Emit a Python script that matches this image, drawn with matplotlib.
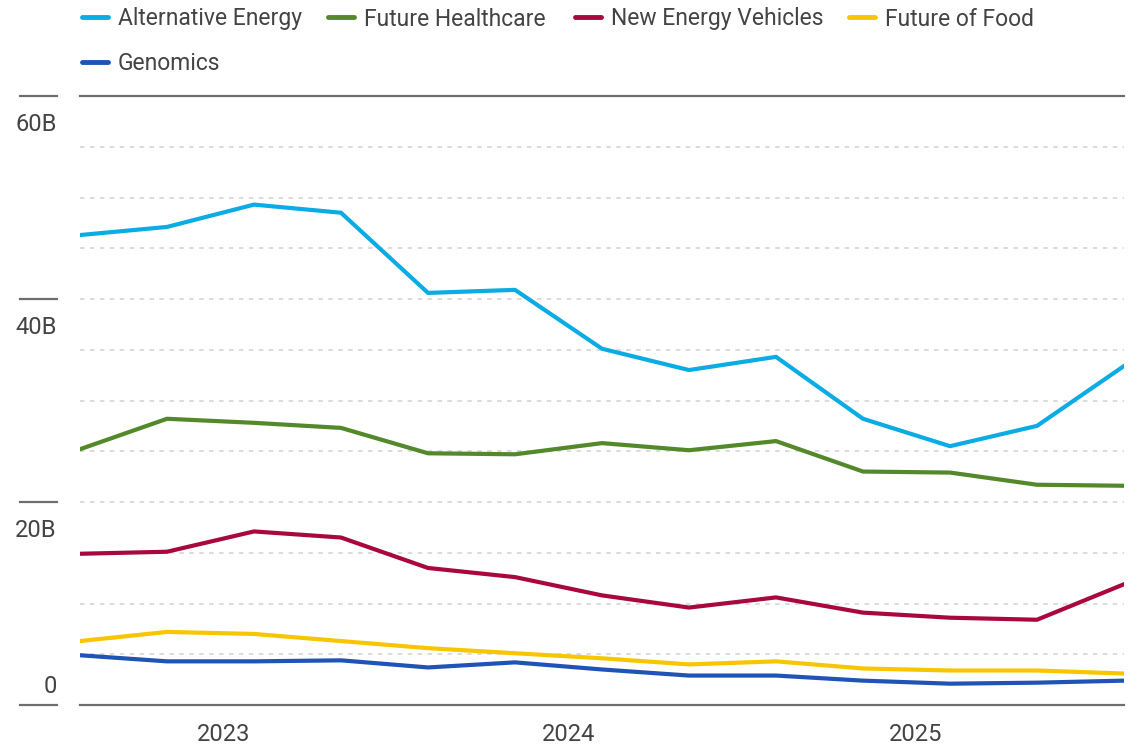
import matplotlib
matplotlib.use('Agg')
import matplotlib.pyplot as plt
import matplotlib.transforms as mtransforms
from matplotlib.lines import Line2D

plt.rcParams['font.family'] = ['Roboto', 'DejaVu Sans']

# quarterly values, billions
quarters = ['2022Q3', '2022Q4', '2023Q1', '2023Q2', '2023Q3', '2023Q4', '2024Q1',
            '2024Q2', '2024Q3', '2024Q4', '2025Q1', '2025Q2', '2025Q3']
alternative_energy = [46.3, 47.1, 49.3, 48.5, 40.6, 40.9, 35.1, 33.0, 34.3, 28.2, 25.5, 27.5, 33.4]
future_healthcare = [25.2, 28.2, 27.8, 27.3, 24.8, 24.7, 25.8, 25.1, 26.0, 23.0, 22.9, 21.7, 21.6]
new_energy_vehicles = [14.9, 15.1, 17.1, 16.5, 13.5, 12.6, 10.8, 9.6, 10.6, 9.1, 8.6, 8.4, 11.9]
future_of_food = [6.3, 7.2, 7.0, 6.3, 5.6, 5.1, 4.6, 4.0, 4.3, 3.6, 3.4, 3.4, 3.1]
genomics = [4.9, 4.3, 4.3, 4.4, 3.7, 4.2, 3.5, 2.9, 2.9, 2.4, 2.1, 2.2, 2.4]

series_names = ['Alternative Energy', 'Future Healthcare', 'New Energy Vehicles',
                'Future of Food', 'Genomics']
series_values = [alternative_energy, future_healthcare, new_energy_vehicles,
                 future_of_food, genomics]
colors = ['#0AACE3', '#53882B', '#A8083E', '#F7C600', '#1F53B5']

year_labels = ['2023', '2024', '2025']
year_pos = [1.655, 5.62, 9.61]

y_labels = ['0', '20B', '40B', '60B']
y_label_vals = [0, 20, 40, 60]

text_color = '#444444'
W, H = 1133, 749

fig = plt.figure(figsize=(W / 100, H / 100), dpi=100)
ax = fig.add_axes([80 / W, 1 - 705 / H, 1044 / W, 609 / H])

x = list(range(len(quarters)))
for name, vals, c in zip(series_names, series_values, colors):
    ax.plot(x, vals, color=c, lw=3, label=name)

ax.set_xlim(0, 12)
ax.set_ylim(0, 60)

# dotted gridlines
for v in range(5, 60, 5):
    ax.axhline(v, color='#d9d9d9', lw=1.3, ls=(0, (2.5, 3)), zorder=0)
ax.axhline(60, color='#6e6e6e', lw=1.6, zorder=0, clip_on=False)
ax.axhline(0, color='#6e6e6e', lw=1.6, zorder=0, clip_on=False)

for s in ax.spines.values():
    s.set_visible(False)
ax.set_yticks([])
ax.set_xticks(year_pos)
ax.set_xticklabels(year_labels)
ax.tick_params(axis='x', length=0, pad=13, labelsize=17, labelcolor=text_color)

# left-hand value marks and labels
trans = mtransforms.blended_transform_factory(ax.transAxes, ax.transData)
for lab, v in zip(y_labels, y_label_vals):
    ax.plot([-60 / 1044, -23 / 1044], [v, v], color='#6e6e6e', lw=1.6,
            transform=trans, clip_on=False)
    if v == 0:
        ax.annotate(lab, (-23 / 1044, v), xycoords=trans, xytext=(0, 5),
                    textcoords='offset points', ha='right', va='bottom',
                    fontsize=17, color=text_color)
    else:
        ax.annotate(lab, (-23 / 1044, v), xycoords=trans, xytext=(0, -12),
                    textcoords='offset points', ha='right', va='top',
                    fontsize=17, color=text_color)

# legend laid out in two rows like the original
legend_slots = [(82, 17), (328, 17), (575, 17), (849, 17), (82, 62)]
for (lx, ly), name, c in zip(legend_slots, series_names, colors):
    fig.add_artist(Line2D([lx / W, (lx + 26) / W], [1 - ly / H, 1 - ly / H],
                          color=c, lw=3.5, solid_capstyle='round'))
    fig.text((lx + 36) / W, 1 - (ly + 2) / H, name, fontsize=16.5,
             color=text_color, ha='left', va='center')

fig.savefig('out.png', dpi=100)
